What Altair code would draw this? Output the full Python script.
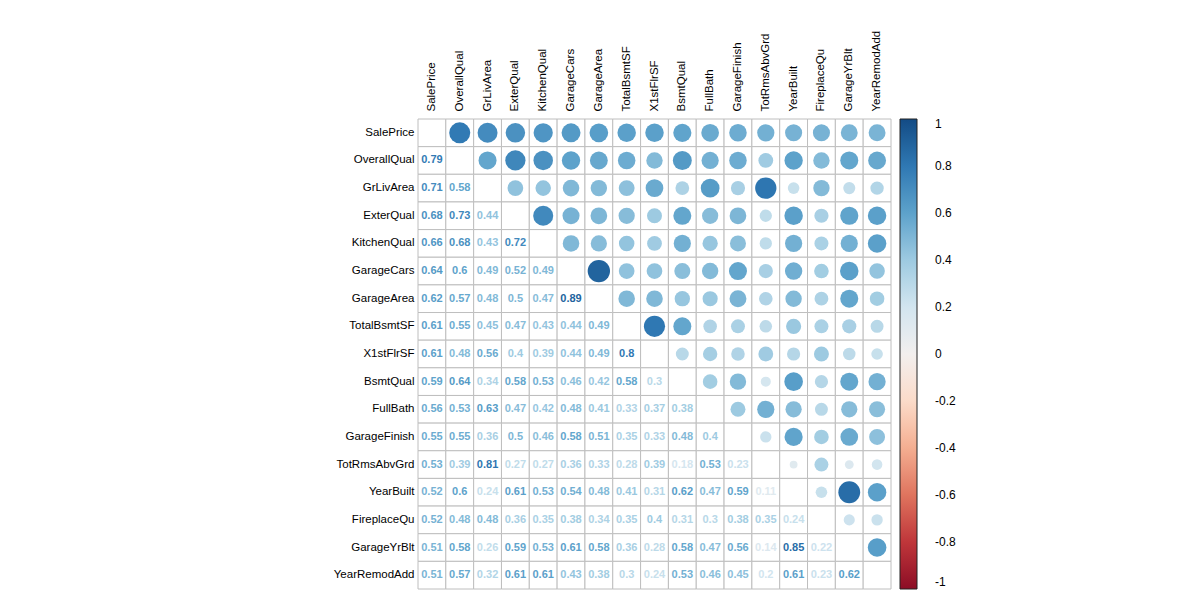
import altair as alt
import pandas as pd

variables = ["SalePrice", "OverallQual", "GrLivArea", "ExterQual", "KitchenQual",
             "GarageCars", "GarageArea", "TotalBsmtSF", "X1stFlrSF", "BsmtQual",
             "FullBath", "GarageFinish", "TotRmsAbvGrd", "YearBuilt", "FireplaceQu",
             "GarageYrBlt", "YearRemodAdd"]

# lower triangle, row i lists correlations with variables 0..i-1
lower = [
    [],
    [0.79],
    [0.71, 0.58],
    [0.68, 0.73, 0.44],
    [0.66, 0.68, 0.43, 0.72],
    [0.64, 0.6, 0.49, 0.52, 0.49],
    [0.62, 0.57, 0.48, 0.5, 0.47, 0.89],
    [0.61, 0.55, 0.45, 0.47, 0.43, 0.44, 0.49],
    [0.61, 0.48, 0.56, 0.4, 0.39, 0.44, 0.49, 0.8],
    [0.59, 0.64, 0.34, 0.58, 0.53, 0.46, 0.42, 0.58, 0.3],
    [0.56, 0.53, 0.63, 0.47, 0.42, 0.48, 0.41, 0.33, 0.37, 0.38],
    [0.55, 0.55, 0.36, 0.5, 0.46, 0.58, 0.51, 0.35, 0.33, 0.48, 0.4],
    [0.53, 0.39, 0.81, 0.27, 0.27, 0.36, 0.33, 0.28, 0.39, 0.18, 0.53, 0.23],
    [0.52, 0.6, 0.24, 0.61, 0.53, 0.54, 0.48, 0.41, 0.31, 0.62, 0.47, 0.59, 0.11],
    [0.52, 0.48, 0.48, 0.36, 0.35, 0.38, 0.34, 0.35, 0.4, 0.31, 0.3, 0.38, 0.35, 0.24],
    [0.51, 0.58, 0.26, 0.59, 0.53, 0.61, 0.58, 0.36, 0.28, 0.58, 0.47, 0.56, 0.14, 0.85, 0.22],
    [0.51, 0.57, 0.32, 0.61, 0.61, 0.43, 0.38, 0.3, 0.24, 0.53, 0.46, 0.45, 0.2, 0.61, 0.23, 0.62],
]

legend_values = [-1, -0.8, -0.6, -0.4, -0.2, 0, 0.2, 0.4, 0.6, 0.8, 1]

cells, nums, circles = [], [], []
for i, a in enumerate(variables):
    for j, b in enumerate(variables):
        cells.append({"row": a, "col": b})
for i, row in enumerate(lower):
    for j, r in enumerate(row):
        nums.append({"row": variables[i], "col": variables[j], "r": r,
                     "label": f"{r:g}"})
        circles.append({"row": variables[j], "col": variables[i], "r": r,
                        "absr": abs(r)})

cells_df = pd.DataFrame(cells)
nums_df = pd.DataFrame(nums)
circ_df = pd.DataFrame(circles)

xenc = alt.X("col:N", sort=variables, scale=alt.Scale(paddingInner=0, paddingOuter=0),
             axis=alt.Axis(orient="top", title=None, labelAngle=270, labelAlign="left",
                           labelBaseline="middle", ticks=False, domain=False,
                           labelPadding=8, labelFontSize=11.5, labelColor="black",
                           labelFont="Liberation Sans"))
yenc = alt.Y("row:N", sort=variables, scale=alt.Scale(paddingInner=0, paddingOuter=0),
             axis=alt.Axis(title=None, ticks=False, domain=False, labelPadding=4,
                           labelFontSize=11.5, labelColor="black",
                           labelFont="Liberation Sans"))

color_scale = alt.Scale(scheme="redblue", domain=[-1, 1])

grid = alt.Chart(cells_df).mark_rect(fill="white", stroke="#bebebe", strokeWidth=1).encode(
    x=xenc, y=yenc)

label_expr = ("datum.value < 0 ? '-' + format(-datum.value, '~g') "
              ": format(datum.value, '~g')")

circ = alt.Chart(circ_df).mark_circle(opacity=1).encode(
    x=xenc, y=yenc,
    size=alt.Size("absr:Q", scale=alt.Scale(domain=[0, 1], range=[0, 560], zero=True),
                  legend=None),
    color=alt.Color("r:Q", scale=color_scale,
                    legend=alt.Legend(title=None, orient="none", legendX=482, legendY=0,
                                      direction="vertical", gradientLength=470,
                                      gradientThickness=17, values=legend_values,
                                      labelExpr=label_expr, labelAlign="center",
                                      labelFontSize=12, labelFont="Liberation Sans",
                                      labelColor="black", labelOffset=18,
                                      gradientStrokeColor="#222", gradientStrokeWidth=1)),
)

text = alt.Chart(nums_df).mark_text(fontWeight="bold", fontSize=11,
                                    font="Liberation Sans").encode(
    x=xenc, y=yenc, text="label:N",
    color=alt.Color("r:Q", scale=color_scale, legend=None),
)

chart = alt.layer(grid, circ, text).properties(
    width=473, height=470,
    autosize=alt.AutoSizeParams(type="none"),
    padding={"left": 418, "top": 119, "right": 309, "bottom": 11},
).configure_view(stroke=None)

chart.save("out.html", embed_options={"renderer": "svg", "actions": False})
